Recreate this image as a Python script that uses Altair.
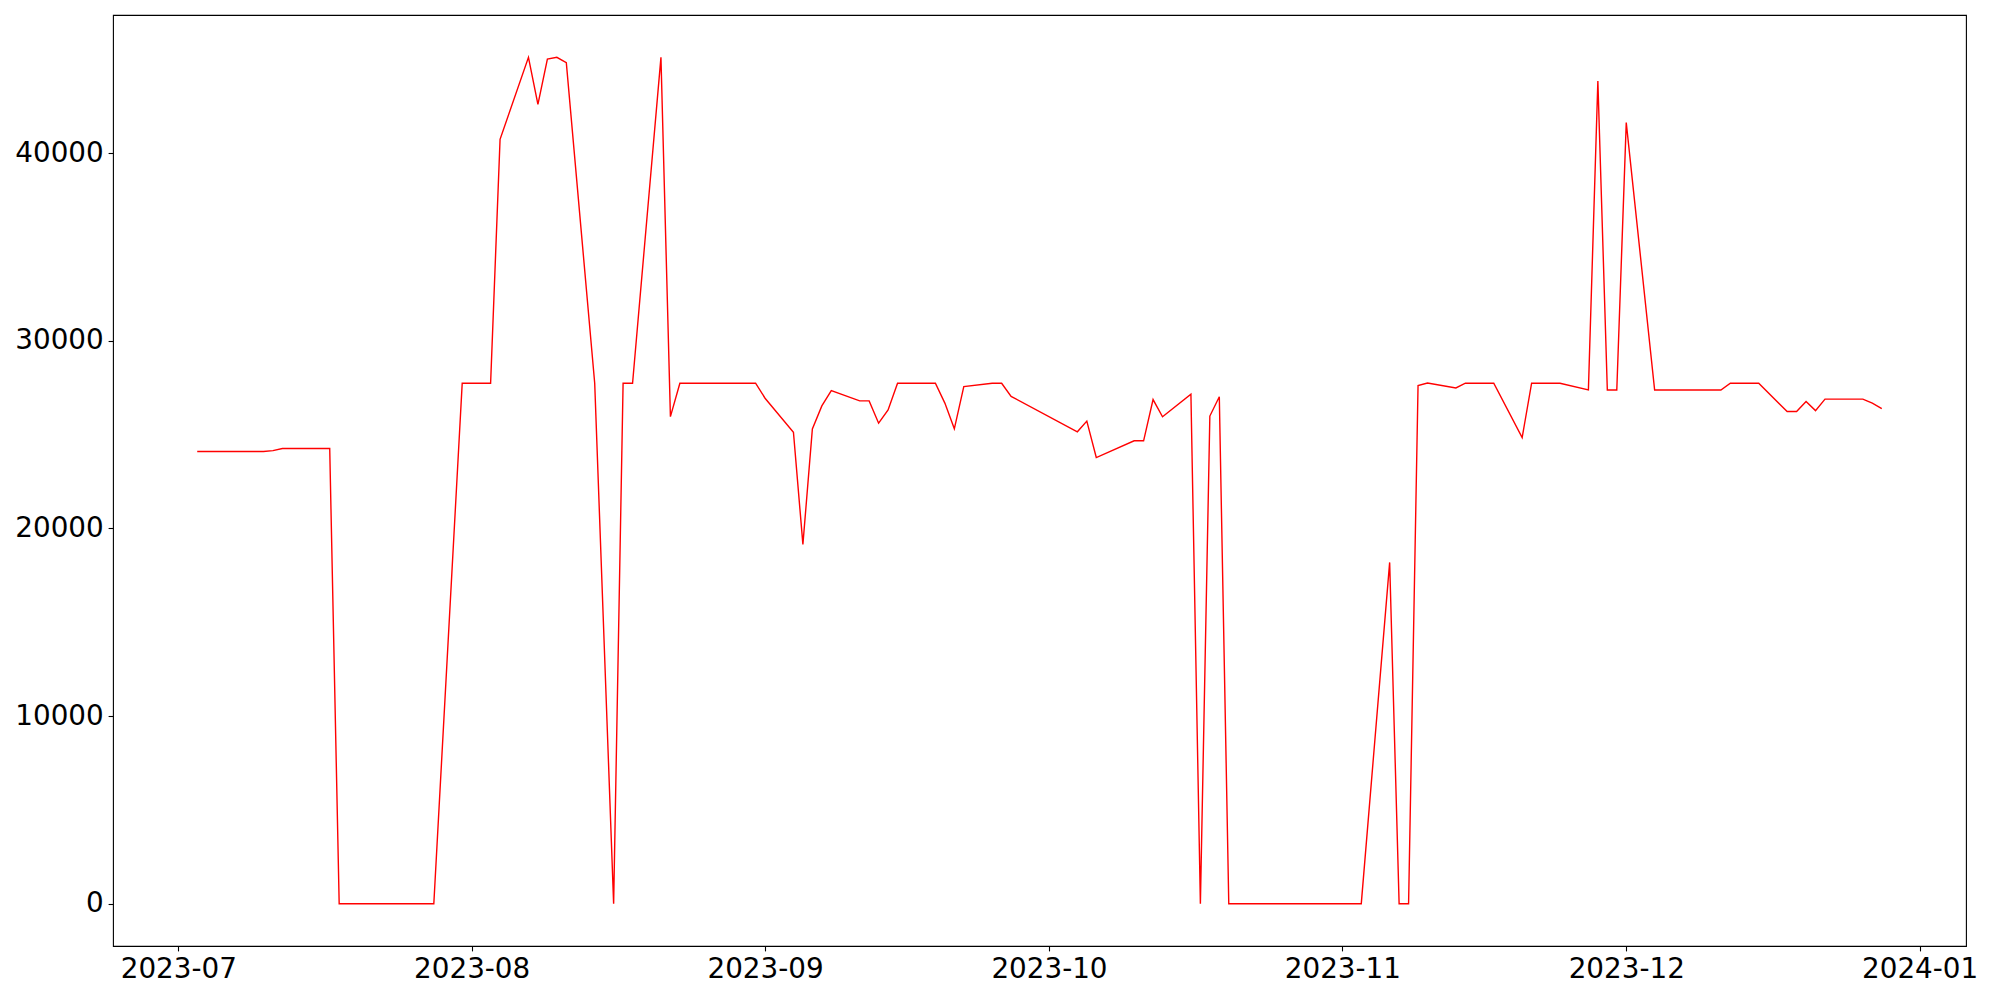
import altair as alt
import pandas as pd

# Day offsets from 2023-07-01 and values
days = [2, 9, 10, 11, 16, 17, 27, 30, 33, 34, 37, 38, 39, 40, 41, 44, 46, 47, 48,
        51, 52, 53, 61, 62, 65, 66, 67, 68, 69, 72, 73, 74, 75, 76, 80, 81, 82, 83,
        86, 87, 88, 95, 96, 97, 101, 102, 103, 104, 107, 108, 109, 110, 111, 125,
        128, 129, 130, 131, 132, 135, 136, 139, 142, 143, 146, 149, 150, 151, 152,
        153, 156, 163, 164, 167, 170, 171, 172, 173, 174, 178, 179, 180]
values = [24100, 24100, 24150, 24260, 24260, 0, 0, 27740, 27740, 40740, 45110, 42600,
          45020, 45110, 44820, 27740, 0, 27740, 27740,
          45110, 25960, 27740, 27740, 26940, 25130, 19150, 25300, 26530, 27350, 26800,
          26800, 25610, 26320, 27740, 27740, 26680, 25310, 27560,
          27740, 27740, 27040, 25150, 25720, 23780, 24670, 24670, 26870, 25950, 27150,
          0, 25990, 27020, 0, 0,
          18190, 0, 0, 27620, 27750, 27490, 27740, 27740, 24840, 27740, 27740, 27380,
          43850, 27380, 27380,
          41630, 27380, 27380, 27740, 27740, 26230, 26230, 26760, 26280, 26890, 26890,
          26680, 26390]

base = pd.Timestamp("2023-07-01")
dates = [(base + pd.Timedelta(days=d)).strftime("%Y-%m-%dT%H:%M:%S") for d in days]
df = pd.DataFrame({"date": dates, "value": values})

# matplotlib-like 5% margins
dmin = base + pd.Timedelta(days=min(days))
dmax = base + pd.Timedelta(days=max(days))
span = dmax - dmin
lo = dmin - span * 0.05
hi = dmax + span * 0.05
vmin, vmax = min(values), max(values)
vpad = (vmax - vmin) * 0.05


def dt(ts):
    return alt.DateTime(year=ts.year, month=ts.month, date=ts.day,
                        hours=ts.hour, minutes=ts.minute, seconds=ts.second)


month_ticks = [alt.DateTime(year=2023, month=m, date=1) for m in range(7, 13)] + [
    alt.DateTime(year=2024, month=1, date=1)]
y_ticks = [0, 10000, 20000, 30000, 40000]

chart = alt.Chart(df).mark_line(color="red", strokeWidth=1.4).encode(
    x=alt.X("date:T",
            scale=alt.Scale(domain=[dt(lo), dt(hi)], nice=False),
            axis=alt.Axis(values=month_ticks, format="%Y-%m", title=None,
                          labelAngle=0, labelAlign="center")),
    y=alt.Y("value:Q",
            scale=alt.Scale(domain=[vmin - vpad, vmax + vpad], nice=False, zero=False),
            axis=alt.Axis(values=y_ticks, format="d", title=None)),
).properties(
    width=1853, height=931,
    padding={"left": 105, "top": 7, "right": 26, "bottom": 40},
    autosize="none",
).configure_view(
    stroke="black", strokeWidth=1.1
).configure_axis(
    domain=False, grid=False, ticks=True, tickColor="black", tickWidth=1.1,
    tickSize=4.9, labelPadding=4.9, labelFont="DejaVu Sans", labelFontSize=27.8,
    labelColor="black", labelFlush=False, labelOverlap=False
)

chart.save("out.html", embed_options={"renderer": "svg", "actions": False})
